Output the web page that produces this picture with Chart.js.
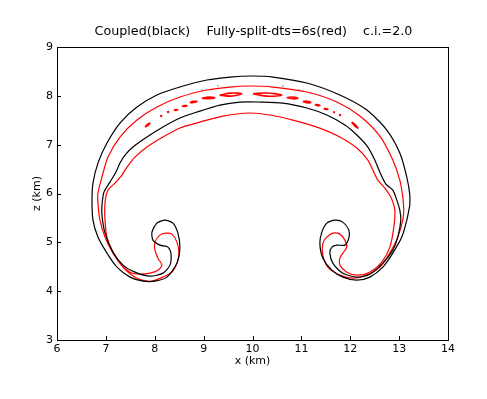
<!DOCTYPE html>
<html>
<head>
<meta charset="utf-8">
<script src="https://cdn.jsdelivr.net/npm/chart.js@4"></script>
<style>
  html, body { margin: 0; padding: 0; background: #fff; }
  #chart { display: block; }
</style>
</head>
<body>
<canvas id="chart" width="487" height="399"></canvas>
<script>
// contour of the coupled run (black), one closed loop: [x km, z km]
const coupledContour = [
  [13.219, 5.762], [13.157, 5.455], [13.055, 5.107], [12.871, 4.779], [12.667, 4.492],
  [12.401, 4.287], [12.135, 4.225], [11.849, 4.287], [11.624, 4.430], [11.440, 4.676],
  [11.378, 4.984], [11.419, 5.209], [11.521, 5.393], [11.685, 5.455], [11.849, 5.414],
  [11.971, 5.250], [11.971, 5.086], [11.890, 4.943], [11.726, 4.943], [11.624, 4.902],
  [11.583, 4.779], [11.644, 4.574], [11.849, 4.369], [12.135, 4.287], [12.401, 4.348],
  [12.667, 4.574], [12.871, 4.840], [12.973, 5.107], [13.035, 5.455], [13.014, 5.660],
  [12.953, 5.865], [12.871, 6.070], [12.728, 6.193], [12.605, 6.439], [12.503, 6.684],
  [12.360, 6.951], [12.135, 7.197], [11.890, 7.402], [11.521, 7.607], [11.112, 7.750],
  [10.622, 7.852], [10.151, 7.873], [9.742, 7.873], [9.333, 7.811], [8.863, 7.668],
  [8.515, 7.545], [8.168, 7.361], [7.840, 7.156], [7.554, 6.951], [7.391, 6.787],
  [7.288, 6.623], [7.207, 6.439], [7.084, 6.234], [6.961, 6.029], [6.920, 5.762],
  [6.920, 5.557], [6.982, 5.189], [7.145, 4.799], [7.350, 4.533], [7.595, 4.389],
  [7.902, 4.307], [8.168, 4.369], [8.311, 4.533], [8.331, 4.779], [8.270, 4.902],
  [8.106, 4.943], [7.963, 5.045], [7.943, 5.209], [8.045, 5.393], [8.209, 5.455],
  [8.372, 5.393], [8.474, 5.189], [8.515, 4.902], [8.454, 4.574], [8.249, 4.287],
  [8.004, 4.205], [7.759, 4.205], [7.493, 4.287], [7.227, 4.492], [7.022, 4.779],
  [6.838, 5.107], [6.736, 5.455], [6.716, 5.865], [6.736, 6.213], [6.838, 6.623],
  [7.022, 7.033], [7.288, 7.443], [7.636, 7.770], [8.045, 8.016], [8.515, 8.180],
  [9.067, 8.324], [9.538, 8.385], [9.988, 8.406], [10.417, 8.385], [11.112, 8.262],
  [11.787, 8.016], [12.339, 7.709], [12.748, 7.299], [13.014, 6.828], [13.157, 6.336],
  [13.219, 5.967], [13.219, 5.762]
];

// tiny closed contours of the next level, coupled run
const coupledSpecks = [[8.965, 8.119], [9.292, 8.201], [10.622, 8.201], [10.950, 8.119]];

// contour of the fully split run (red), one closed loop
const splitContour = [
  [13.096, 5.660], [13.076, 5.455], [12.973, 5.107], [12.810, 4.779], [12.605, 4.492],
  [12.339, 4.328], [12.053, 4.266], [11.787, 4.328], [11.542, 4.492], [11.440, 4.738],
  [11.440, 4.984], [11.521, 5.107], [11.644, 5.189], [11.787, 5.168], [11.890, 5.045],
  [11.930, 4.902], [11.849, 4.779], [11.787, 4.676], [11.787, 4.533], [11.930, 4.389],
  [12.135, 4.328], [12.401, 4.389], [12.646, 4.594], [12.810, 4.902], [12.892, 5.311],
  [12.912, 5.660], [12.830, 5.926], [12.708, 6.111], [12.564, 6.275], [12.462, 6.480],
  [12.360, 6.684], [12.135, 6.930], [11.787, 7.156], [11.378, 7.340], [10.826, 7.504],
  [10.356, 7.607], [9.947, 7.648], [9.395, 7.586], [8.924, 7.463], [8.515, 7.340],
  [8.168, 7.156], [7.840, 6.951], [7.595, 6.746], [7.493, 6.623], [7.391, 6.480],
  [7.329, 6.377], [7.186, 6.213], [7.043, 6.070], [6.982, 5.803], [6.982, 5.455],
  [7.022, 5.107], [7.125, 4.840], [7.288, 4.574], [7.493, 4.389], [7.697, 4.348],
  [7.902, 4.369], [8.065, 4.430], [8.147, 4.533], [8.065, 4.676], [8.004, 4.840],
  [8.004, 5.004], [8.106, 5.148], [8.229, 5.189], [8.352, 5.168], [8.454, 5.004],
  [8.495, 4.779], [8.454, 4.574], [8.352, 4.389], [8.168, 4.287], [7.943, 4.205],
  [7.738, 4.225], [7.534, 4.328], [7.350, 4.492], [7.145, 4.779], [6.982, 5.107],
  [6.879, 5.455], [6.838, 5.803], [6.838, 6.008], [6.920, 6.336], [7.043, 6.746],
  [7.288, 7.156], [7.636, 7.504], [8.045, 7.770], [8.515, 7.975], [9.067, 8.119],
  [9.538, 8.180], [9.947, 8.201], [10.417, 8.180], [11.112, 8.078], [11.726, 7.873],
  [12.196, 7.586], [12.605, 7.176], [12.871, 6.684], [13.014, 6.275], [13.076, 5.926],
  [13.096, 5.660]
];

// small closed contours of the next level, split run (left end, top, right end, bottom)
const splitIslands = [
  [[7.80, 7.36], [7.845, 7.41], [7.90, 7.44], [7.855, 7.39]],
  [[8.115, 7.585], [8.127, 7.595], [8.14, 7.588], [8.127, 7.578]],
  [[8.255, 7.668], [8.27, 7.677], [8.285, 7.668], [8.27, 7.66]],
  [[8.39, 7.705], [8.43, 7.716], [8.475, 7.713], [8.43, 7.702]],
  [[8.555, 7.787], [8.61, 7.80], [8.66, 7.797], [8.61, 7.784]],
  [[8.72, 7.862], [8.79, 7.888], [8.865, 7.882], [8.79, 7.862]],
  [[8.965, 7.948], [9.10, 7.975], [9.23, 7.962], [9.10, 7.942]],
  [[9.33, 8.015], [9.56, 8.055], [9.78, 8.042], [9.56, 7.995]],
  [[10.01, 8.042], [10.28, 8.058], [10.60, 8.012], [10.28, 7.995]],
  [[10.70, 7.967], [10.82, 7.975], [10.93, 7.948], [10.82, 7.94]],
  [[11.03, 7.882], [11.11, 7.89], [11.195, 7.862], [11.11, 7.858]],
  [[11.275, 7.817], [11.33, 7.822], [11.38, 7.803], [11.33, 7.8]],
  [[11.46, 7.736], [11.50, 7.74], [11.54, 7.724], [11.50, 7.72]],
  [[11.655, 7.671], [11.665, 7.676], [11.678, 7.665], [11.665, 7.66]],
  [[11.775, 7.609], [11.787, 7.615], [11.8, 7.604], [11.787, 7.598]],
  [[12.03, 7.46], [12.095, 7.415], [12.155, 7.34], [12.09, 7.385]]
];

const xTicks = [6, 7, 8, 9, 10, 11, 12, 13, 14];
const zTicks = [3, 4, 5, 6, 7, 8, 9];
const titleText = "Coupled(black)    Fully-split-dts=6s(red)    c.i.=2.0";
const xLabel = "x (km)";
const zLabel = "z (km)";

const FONT = "'DejaVu Sans', 'Liberation Sans', sans-serif";

const toPoints = arr => arr.map(p => ({ x: p[0], y: p[1] }));

function lineSet(points, color, width, tension) {
    return {
        data: points,
        showLine: true,
        borderColor: color,
        borderWidth: width,
        pointRadius: 0,
        pointHoverRadius: 0,
        fill: false,
        tension: tension,
    };
}

const datasets = [];
datasets.push(lineSet(toPoints(coupledContour), "#000000", 1.2, 0.25));
datasets.push({
    data: toPoints(coupledSpecks),
    showLine: false,
    pointRadius: 0.7,
    pointBorderWidth: 0,
    backgroundColor: "#666666",
});
datasets.push(lineSet(toPoints(splitContour), "#ff0000", 1.2, 0.25));
splitIslands.forEach(island => {
    const pts = toPoints(island.concat([island[0]]));
    datasets.push(lineSet(pts, "#ff0000", 1.6, 0.4));
});

// frame, inward ticks and the labels
const framePlugin = {
    id: "frame",
    afterDraw(chart) {
        const ctx = chart.ctx;
        const area = chart.chartArea;
        const xs = chart.scales.x;
        const ys = chart.scales.y;
        ctx.save();
        ctx.strokeStyle = "#000";
        ctx.lineWidth = 1;
        ctx.beginPath();
        xTicks.forEach(v => {
            const px = Math.round(xs.getPixelForValue(v)) + 0.5;
            ctx.moveTo(px, area.bottom);
            ctx.lineTo(px, area.bottom - 4);
        });
        zTicks.forEach(v => {
            const py = Math.round(ys.getPixelForValue(v)) + 0.5;
            ctx.moveTo(area.left, py);
            ctx.lineTo(area.left + 4, py);
        });
        ctx.stroke();
        ctx.strokeRect(area.left + 0.5, area.top + 0.5, area.right - area.left, area.bottom - area.top);

        ctx.fillStyle = "#000";
        ctx.textAlign = "center";
        ctx.textBaseline = "middle";
        ctx.font = "12.7px " + FONT;
        ctx.fillText(titleText, (area.left + area.right) / 2 + 1, 32);
        ctx.font = "11px " + FONT;
        ctx.fillText(xLabel, (area.left + area.right) / 2, 361);
        ctx.translate(37, (area.top + area.bottom) / 2);
        ctx.rotate(-Math.PI / 2);
        ctx.fillText(zLabel, 0, 0);
        ctx.restore();
    }
};

new Chart(document.getElementById("chart"), {
    type: "scatter",
    data: { datasets: datasets },
    options: {
        responsive: false,
        animation: false,
        events: [],
        layout: { padding: { top: 47, right: 39, left: 0, bottom: 0 } },
        plugins: {
            legend: { display: false },
            title: { display: false },
            tooltip: { enabled: false },
        },
        scales: {
            x: {
                type: "linear",
                min: 6,
                max: 14,
                afterBuildTicks: s => { s.ticks = xTicks.map(v => ({ value: v })); },
                afterFit: s => { s.height = 59; },
                grid: { display: false, drawTicks: false },
                border: { display: false },
                ticks: {
                    padding: 3,
                    maxRotation: 0,
                    color: "#000",
                    font: { family: FONT, size: 11 },
                },
            },
            y: {
                type: "linear",
                min: 3,
                max: 9,
                afterBuildTicks: s => { s.ticks = zTicks.map(v => ({ value: v })); },
                afterFit: s => { s.width = 57; },
                grid: { display: false, drawTicks: false },
                border: { display: false },
                ticks: {
                    padding: 4,
                    color: "#000",
                    font: { family: FONT, size: 11 },
                },
            },
        },
    },
    plugins: [framePlugin],
});
</script>
</body>
</html>
